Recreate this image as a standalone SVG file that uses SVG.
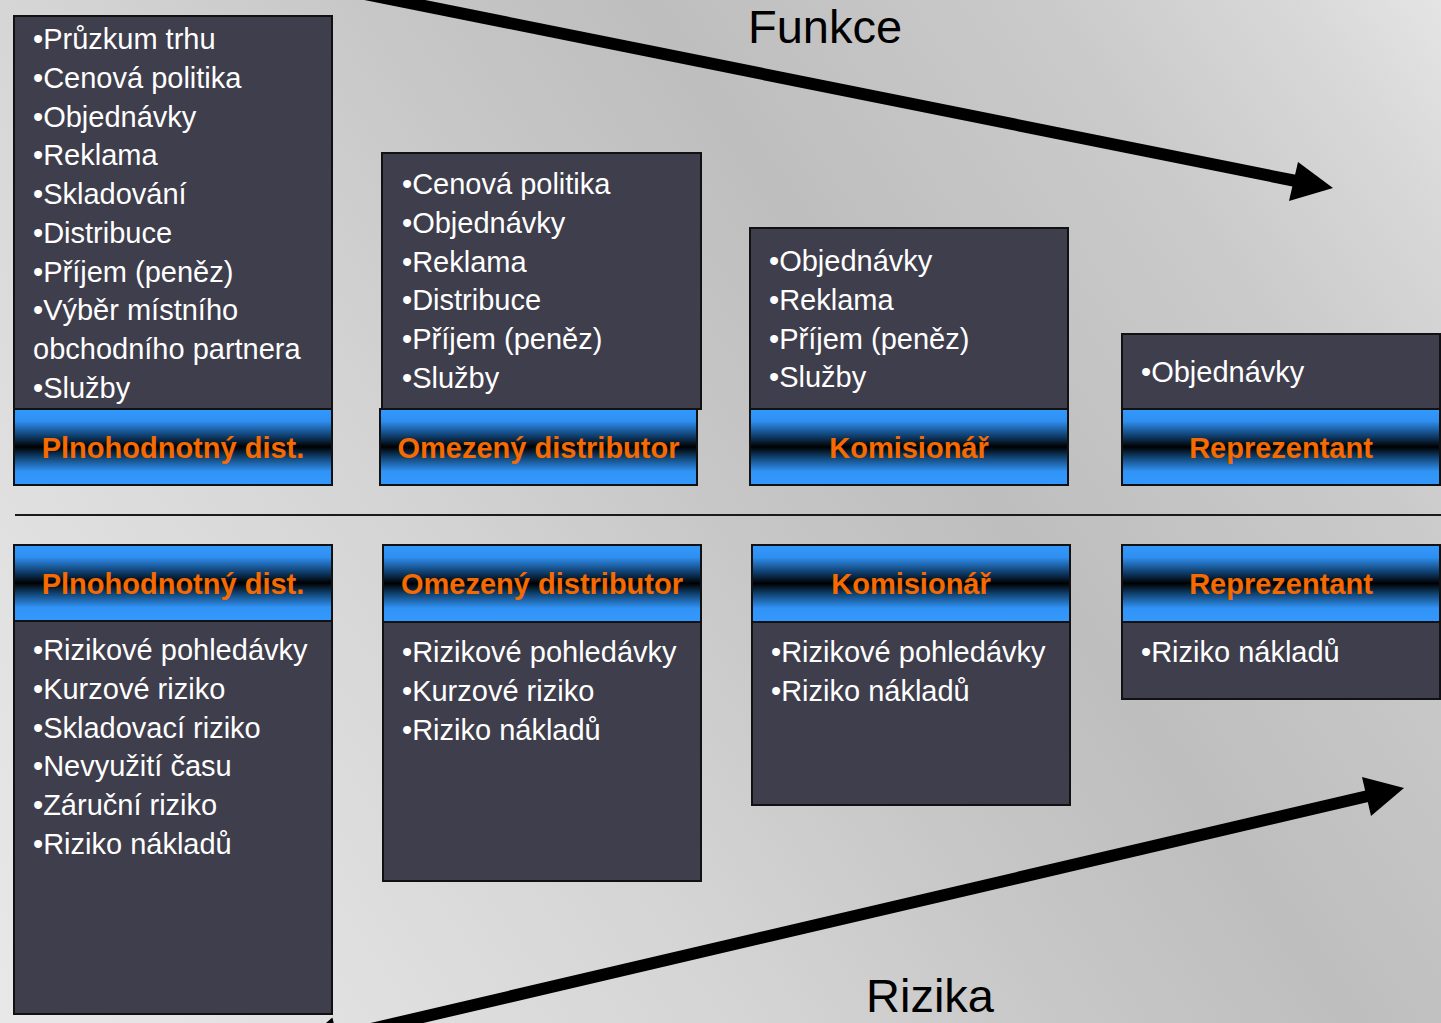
<svg xmlns="http://www.w3.org/2000/svg" width="1441" height="1023" viewBox="0 0 1441 1023">
<defs>
<linearGradient id="bg" gradientUnits="userSpaceOnUse" x1="-478" y1="332" x2="969" y2="-674">
<stop offset="0" stop-color="#e8e8e8"/>
<stop offset="0.15" stop-color="#e1e1e1"/>
<stop offset="0.355" stop-color="#d4d4d4"/>
<stop offset="0.5" stop-color="#c7c7c7"/>
<stop offset="0.63" stop-color="#bebebe"/>
<stop offset="0.675" stop-color="#c1c1c1"/>
<stop offset="0.815" stop-color="#cacaca"/>
<stop offset="0.93" stop-color="#d8d8d8"/>
<stop offset="1" stop-color="#e4e4e4"/>
</linearGradient>
<linearGradient id="hdr" x1="0" y1="0" x2="0" y2="1">
<stop offset="0" stop-color="#3399ff"/>
<stop offset="0.16" stop-color="#2f8ff0"/>
<stop offset="0.35" stop-color="#104070"/>
<stop offset="0.5" stop-color="#000000"/>
<stop offset="0.64" stop-color="#114575"/>
<stop offset="0.82" stop-color="#3193f5"/>
<stop offset="1" stop-color="#3399ff"/>
</linearGradient>
<style>
.body{fill:#3f3e4c;stroke:#111;stroke-width:2}
.hdr{fill:url(#hdr);stroke:#111;stroke-width:2}
.ht{font-family:"Liberation Sans",Arial,sans-serif;font-size:29px;font-weight:bold;fill:#f66a00;text-anchor:middle}
.bt{font-family:"Liberation Sans",Arial,sans-serif;font-size:29px;fill:#ffffff}
.big{font-family:"Liberation Sans",Arial,sans-serif;font-size:47px;fill:#000}
</style>
</defs>
<rect x="0" y="0" width="1441" height="1023" fill="url(#bg)"/>

<g id="top-plnohodnotny">
<rect class="body" x="14" y="16" width="318" height="393"/>
<rect class="hdr" x="14" y="409" width="318" height="76"/>
<text class="ht" x="173" y="458">Plnohodnotný dist.</text>
<text class="bt" x="33" y="49">•Průzkum trhu</text>
<text class="bt" x="33" y="87.75">•Cenová politika</text>
<text class="bt" x="33" y="126.5">•Objednávky</text>
<text class="bt" x="33" y="165.25">•Reklama</text>
<text class="bt" x="33" y="204">•Skladování</text>
<text class="bt" x="33" y="242.75">•Distribuce</text>
<text class="bt" x="33" y="281.5">•Příjem (peněz)</text>
<text class="bt" x="33" y="320.25">•Výběr místního</text>
<text class="bt" x="33" y="359">obchodního partnera</text>
<text class="bt" x="33" y="397.75">•Služby</text>
</g>

<g id="top-omezeny">
<rect class="body" x="382" y="153" width="319" height="256"/>
<rect class="hdr" x="380" y="409" width="317" height="76"/>
<text class="ht" x="538.5" y="458">Omezený distributor</text>
<text class="bt" x="402" y="194">•Cenová politika</text>
<text class="bt" x="402" y="232.75">•Objednávky</text>
<text class="bt" x="402" y="271.5">•Reklama</text>
<text class="bt" x="402" y="310.25">•Distribuce</text>
<text class="bt" x="402" y="349">•Příjem (peněz)</text>
<text class="bt" x="402" y="387.75">•Služby</text>
</g>

<g id="top-komisionar">
<rect class="body" x="750" y="228" width="318" height="181"/>
<rect class="hdr" x="750" y="409" width="318" height="76"/>
<text class="ht" x="909" y="458">Komisionář</text>
<text class="bt" x="769" y="271">•Objednávky</text>
<text class="bt" x="769" y="309.75">•Reklama</text>
<text class="bt" x="769" y="348.5">•Příjem (peněz)</text>
<text class="bt" x="769" y="387.25">•Služby</text>
</g>

<g id="top-reprezentant">
<rect class="body" x="1122" y="334" width="318" height="75"/>
<rect class="hdr" x="1122" y="409" width="318" height="76"/>
<text class="ht" x="1281" y="458">Reprezentant</text>
<text class="bt" x="1141" y="382">•Objednávky</text>
</g>

<g id="bottom-plnohodnotny">
<rect class="hdr" x="14" y="545" width="318" height="76"/>
<rect class="body" x="14" y="621" width="318" height="393"/>
<text class="ht" x="173" y="594">Plnohodnotný dist.</text>
<text class="bt" x="33" y="660">•Rizikové pohledávky</text>
<text class="bt" x="33" y="698.75">•Kurzové riziko</text>
<text class="bt" x="33" y="737.5">•Skladovací riziko</text>
<text class="bt" x="33" y="776.25">•Nevyužití času</text>
<text class="bt" x="33" y="815">•Záruční riziko</text>
<text class="bt" x="33" y="853.75">•Riziko nákladů</text>
</g>

<g id="bottom-omezeny">
<rect class="hdr" x="383" y="545" width="318" height="77"/>
<rect class="body" x="383" y="622" width="318" height="259"/>
<text class="ht" x="542" y="594">Omezený distributor</text>
<text class="bt" x="402" y="662">•Rizikové pohledávky</text>
<text class="bt" x="402" y="700.75">•Kurzové riziko</text>
<text class="bt" x="402" y="739.5">•Riziko nákladů</text>
</g>

<g id="bottom-komisionar">
<rect class="hdr" x="752" y="545" width="318" height="77"/>
<rect class="body" x="752" y="622" width="318" height="183"/>
<text class="ht" x="911" y="594">Komisionář</text>
<text class="bt" x="771" y="662">•Rizikové pohledávky</text>
<text class="bt" x="771" y="700.75">•Riziko nákladů</text>
</g>

<g id="bottom-reprezentant">
<rect class="hdr" x="1122" y="545" width="318" height="77"/>
<rect class="body" x="1122" y="622" width="318" height="77"/>
<text class="ht" x="1281" y="594">Reprezentant</text>
<text class="bt" x="1141" y="662">•Riziko nákladů</text>
</g>

<g id="labels">
<text class="big" x="748" y="43">Funkce</text>
<text class="big" x="866" y="1012">Rizika</text>
</g>

<g id="connectors">
<line x1="15" y1="515" x2="1441" y2="515" stroke="#1a1a1a" stroke-width="2"/>
<line x1="330" y1="-13" x2="1296" y2="181" stroke="#000" stroke-width="12"/>
<polygon points="1333,188 1298,162 1289,201" fill="#000"/>
<line x1="337" y1="1037" x2="1368" y2="796" stroke="#000" stroke-width="12"/>
<polygon points="1404,788 1362,777 1371,816" fill="#000"/>
<polygon points="299,1046 332.4,1017.5 341.6,1056.5" fill="#000"/>
</g>
</svg>
